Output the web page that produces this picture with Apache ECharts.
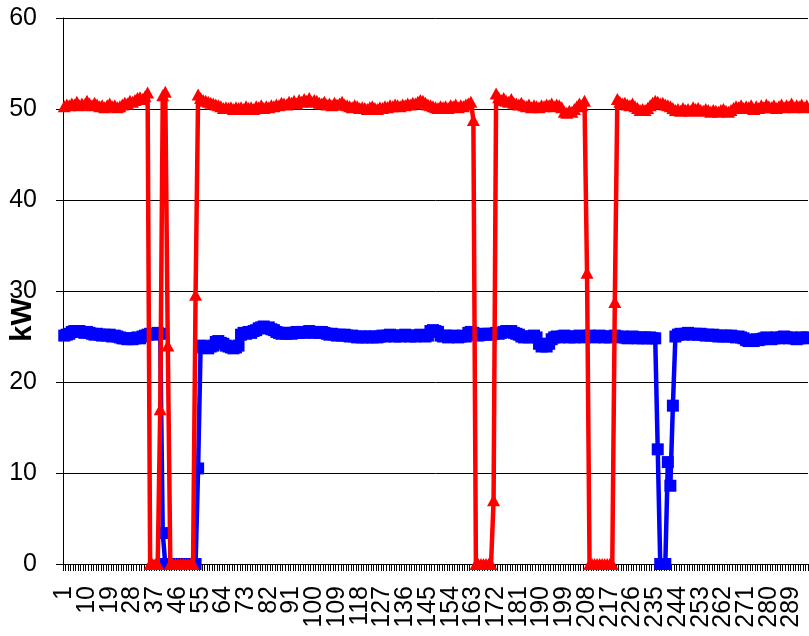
<!DOCTYPE html>
<html>
<head>
<meta charset="utf-8">
<script src="https://cdn.jsdelivr.net/npm/echarts@6/dist/echarts.min.js"></script>
<style>
html,body{margin:0;padding:0;background:#fff;}
#chart{width:809px;height:636px;}
</style>
</head>
<body>
<div id="chart"></div>
<script>
// Category count (ticks 1 .. 295, labelled every 9th)
var categoryCount = 295;
var labelEvery = 9;
var categories = [];
for (var i = 1; i <= categoryCount; i++) categories.push(String(i));

var yTicks = { min: 0, max: 60, interval: 10 };
var yName = 'kW';

// Blue series (squares), kW
var blueSeries = [
25.1,25.2,25.3,25.5,25.6,25.5,25.6,25.5,25.4,25.5,
25.4,25.3,25.2,25.3,25.2,25.1,25.2,25.1,25.2,25.0,
25.1,25.0,24.9,24.8,24.8,24.7,24.8,24.7,24.8,24.9,
24.8,25.0,25.1,25.2,25.3,25.2,25.3,25.4,25.3,3.4,
0,0,0,0,0,0,0,0,0,0,
0,0,0,10.5,24.0,23.8,23.9,23.7,23.9,24.0,
24.4,24.5,24.3,24.2,24.0,23.9,23.8,23.7,23.8,24.0,
25.2,25.4,25.3,25.5,25.4,25.6,25.7,25.9,26.0,26.1,
25.9,26.0,25.8,25.7,25.5,25.4,25.3,25.4,25.3,25.4,
25.3,25.4,25.5,25.4,25.5,25.4,25.5,25.6,25.5,25.4,
25.5,25.4,25.5,25.4,25.3,25.2,25.3,25.2,25.1,25.2,
25.1,25.2,25.1,25.0,25.1,25.0,24.9,25.0,24.9,25.0,
24.9,25.0,24.9,25.0,24.9,25.0,25.1,25.0,25.1,25.2,
25.1,25.0,25.1,25.0,25.1,25.2,25.1,25.0,25.1,25.0,
25.1,25.2,25.1,25.0,25.1,25.6,25.7,25.6,25.5,25.1,
25.0,25.1,24.9,25.0,25.1,25.0,24.9,25.0,25.1,25.0,
25.4,25.5,25.4,25.2,25.1,25.2,25.3,25.2,25.3,25.2,
25.3,25.4,25.3,25.4,25.5,25.6,25.5,25.6,25.4,25.3,
25.2,25.0,24.9,25.0,24.9,25.0,25.1,24.9,24.2,23.9,
24.0,23.9,24.2,24.7,24.9,25.0,24.9,25.0,25.1,25.0,
24.9,25.0,24.9,25.0,25.1,25.0,24.9,25.0,25.1,25.0,
24.9,25.0,25.1,25.0,24.9,25.0,24.9,25.0,25.1,25.0,
24.9,25.0,24.9,24.8,24.9,25.0,24.9,24.8,24.9,24.8,
24.9,24.8,24.9,24.8,24.8,12.6,0,0,0,11.2,
8.6,17.4,25.0,25.2,25.3,25.2,25.3,25.4,25.3,25.2,
25.3,25.2,25.3,25.2,25.1,25.2,25.1,25.2,25.1,25.0,
25.1,25.0,25.1,25.0,25.1,25.0,24.9,25.0,24.9,24.8,
24.6,24.5,24.6,24.5,24.7,24.6,24.7,24.8,24.9,24.8,
24.7,24.8,24.9,24.8,24.9,25.0,24.9,24.8,24.9,24.8,
24.7,24.8,24.9,24.8,24.9
];

// Red series (triangles), kW
var redSeries = [
50.3,50.5,50.4,50.6,50.5,50.8,50.4,50.6,50.5,50.9,
50.6,50.4,50.7,50.5,50.3,50.4,50.2,50.4,50.6,50.3,
50.4,50.2,50.3,50.5,50.7,50.6,50.9,50.8,51.0,51.2,
51.3,51.1,51.4,51.8,0,0,0,0,17.0,51.5,
51.9,24.0,0,0,0,0,0,0,0,0,
0,0,29.6,51.6,51.2,51.0,50.9,50.8,50.7,50.6,
50.5,50.4,50.3,50.1,50.2,50.1,50.2,50.0,50.2,50.1,
50.2,50.0,50.3,50.1,50.2,50.0,50.3,50.2,50.4,50.1,
50.3,50.2,50.4,50.3,50.5,50.4,50.7,50.6,50.5,50.8,
50.7,50.9,50.6,51.0,50.8,51.1,50.9,51.2,50.8,51.0,
50.9,50.7,50.6,50.8,50.5,50.6,50.4,50.7,50.5,50.6,
50.8,50.5,50.4,50.3,50.2,50.4,50.3,50.1,50.2,50.1,
50.0,50.2,50.3,50.1,50.0,50.2,50.1,50.3,50.2,50.4,
50.3,50.5,50.4,50.3,50.5,50.4,50.6,50.5,50.7,50.6,
50.8,51.0,50.9,50.7,50.5,50.4,50.3,50.2,50.1,50.3,
50.2,50.3,50.1,50.4,50.3,50.5,50.2,50.4,50.3,50.5,
50.6,50.8,48.8,0,0,0,0,0,0,0,
7.0,51.7,51.3,51.0,51.2,50.9,50.8,51.1,50.7,50.6,
50.5,50.7,50.4,50.3,50.5,50.2,50.4,50.3,50.2,50.4,
50.3,50.5,50.4,50.6,50.3,50.5,50.4,50.2,49.7,49.6,
49.8,49.7,50.0,50.3,50.6,50.4,50.9,32.0,0,0,
0,0,0,0,0,0,0,0,28.8,51.1,
50.8,50.6,50.7,50.5,50.4,50.6,50.3,50.1,49.9,50.0,
49.9,50.1,50.4,50.7,50.9,50.8,50.6,50.7,50.5,50.4,
50.3,50.1,49.9,50.0,49.8,50.1,49.9,50.0,49.8,50.2,
50.0,50.1,49.9,49.8,50.0,49.9,49.7,49.9,49.8,49.7,
49.9,50.0,49.8,49.7,49.9,50.1,50.3,50.2,50.4,50.1,
50.3,50.2,50.4,50.0,50.3,50.1,50.4,50.2,50.5,50.3,
50.2,50.4,50.1,50.3,50.5,50.2,50.4,50.3,50.6,50.2,
50.4,50.3,50.5,50.2,50.4
];

var FONT = '"Liberation Sans", Arial, sans-serif';
var chart = echarts.init(document.getElementById('chart'), null, {renderer: 'canvas'});
chart.setOption({
  animation: false,
  backgroundColor: '#ffffff',
  grid: { left: 63, right: 1, top: 18, bottom: 72, containLabel: false, outerBoundsMode: 'none' },
  graphic: [{
    type: 'text',
    x: 23, y: 320,
    rotation: Math.PI / 2,
    style: { text: yName, fill: '#000', font: 'bold 29px ' + FONT, textAlign: 'center', textVerticalAlign: 'middle' }
  }],
  xAxis: {
    type: 'category',
    data: categories,
    boundaryGap: true,
    axisLine: { show: true, lineStyle: { color: '#000', width: 1 } },
    axisTick: { show: true, interval: 0, length: 7, lineStyle: { color: '#000', width: 1 } },
    axisLabel: {
      interval: 0,
      formatter: function (value, idx) { return idx % labelEvery === 0 ? value : ''; },
      rotate: 90, margin: 22, color: '#000', fontSize: 25, fontFamily: FONT, hideOverlap: false
    },
    splitLine: { show: false }
  },
  yAxis: {
    type: 'value',
    min: yTicks.min, max: yTicks.max, interval: yTicks.interval,
    axisLine: { show: true, lineStyle: { color: '#000', width: 1 } },
    axisTick: { show: true, length: 7, lineStyle: { color: '#000', width: 1 } },
    axisLabel: { margin: 26, color: '#000', fontSize: 25, fontFamily: FONT },
    splitLine: { show: true, lineStyle: { color: '#000', width: 1 } }
  },
  series: [
    {
      type: 'line',
      data: blueSeries,
      symbol: 'rect',
      symbolSize: 12,
      showAllSymbol: true,
      lineStyle: { color: '#0000FF', width: 4.5 },
      itemStyle: { color: '#0000FF', borderWidth: 0 },
      z: 2
    },
    {
      type: 'line',
      data: redSeries,
      symbol: 'triangle',
      symbolSize: [13, 12],
      showAllSymbol: true,
      lineStyle: { color: '#FF0000', width: 4.5 },
      itemStyle: { color: '#FF0000', borderWidth: 0 },
      z: 3
    }
  ]
});
</script>
</body>
</html>
